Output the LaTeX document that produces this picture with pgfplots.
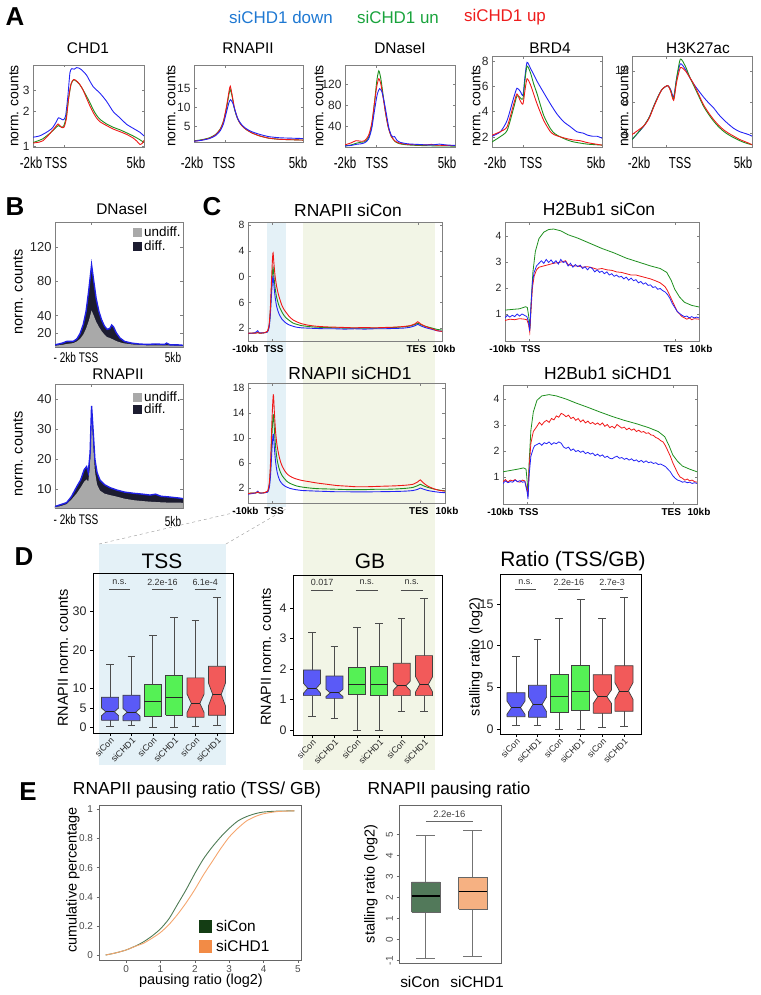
\documentclass[border=0pt]{standalone}
\usepackage{fontspec}
\setmainfont{Liberation Sans}
\usepackage{pgfplots}
\pgfplotsset{compat=1.18}
\usepackage{graphicx}

\definecolor{cblue}{HTML}{2323F5}
\definecolor{cgreen}{HTML}{1E8F1E}
\definecolor{cred}{HTML}{F01818}
\definecolor{lgblue}{HTML}{1E78D2}
\definecolor{lggreen}{HTML}{19A33C}
\definecolor{lgred}{HTML}{EE1C1C}
\definecolor{shblue}{HTML}{E4F1F7}
\definecolor{shgreen}{HTML}{F2F5E6}
\definecolor{bxblue}{HTML}{5A5AF7}
\definecolor{bxgreen}{HTML}{55F155}
\definecolor{bxred}{HTML}{F25A5A}
\definecolor{undiff}{HTML}{A9A9A9}
\definecolor{diffc}{HTML}{1C1C30}
\definecolor{bout}{HTML}{2020E6}
\definecolor{econ}{HTML}{4E7B55}
\definecolor{echd}{HTML}{F5A66E}
\definecolor{econsq}{HTML}{143D14}
\definecolor{echdsq}{HTML}{F28B46}
\definecolor{econbox}{HTML}{52795A}
\definecolor{echdbox}{HTML}{F6B182}

\newcommand\fs[1]{\fontsize{#1}{#1}\selectfont}
\newcommand\cond[1]{\scalebox{0.72}[1]{#1}}

\pgfplotsset{
  base/.style={scale only axis, anchor=north west, clip=true,
    /pgf/number format/assume math mode=true,
    axis line style={black!50, line width=0.6pt},
    major tick length=2.5bp,
    tick style={black!50, line width=0.5pt},
    tick label style={font=\fs{11}, text=black!85},
  },
  aplot/.style={base, xmin=-2, xmax=5, xtick={0}, xticklabel=\empty, tick label style={font=\fs{12}}},
  cplot/.style={base, xmin=-10, xmax=70, xtick={-10,0,60,70},
     xticklabels={\hspace*{-5bp}-10kb,\hspace*{3bp}TSS,TES\hspace*{3bp},\hspace*{4bp}10kb},
     xticklabel style={font=\fs{10}\bfseries, text=black, yshift=-1bp}, yticklabel style={font=\fs{10.5}}},
  dplot/.style={base, axis line style={black, line width=0.9pt}, tick align=outside, tick pos=left,
     xtick={1,...,6}, xticklabels={siCon,siCHD1,siCon,siCHD1,siCon,siCHD1},
     xticklabel style={rotate=45, anchor=north east, font=\fs{8.8}, inner sep=0.5pt},
     yticklabel style={font=\fs{12.5}}, tick style={black, line width=0.6pt}, major tick length=3bp},
  cline/.style={line width=0.9pt, smooth, tension=0.4},
  nline/.style={line width=0.8pt},
  whisk/.style={black!70, line width=0.7pt},
  boxst/.style={draw=black!75, line width=0.7pt},
  medst/.style={black!85, line width=0.9pt},
}

\newcommand{\whisk}[5]{%
  \pgfmathsetmacro\bcl{#1-\capw}\pgfmathsetmacro\bcr{#1+\capw}%
  \edef\tmp{\noexpand\addplot[whisk] coordinates {(#1,#2) (#1,#3)};
    \noexpand\addplot[whisk] coordinates {(#1,#4) (#1,#5)};
    \noexpand\addplot[whisk] coordinates {(\bcl,#2) (\bcr,#2)};
    \noexpand\addplot[whisk] coordinates {(\bcl,#5) (\bcr,#5)};}\tmp}
\newcommand{\nbox}[8]{%
  \whisk{#1}{#2}{#3}{#5}{#6}%
  \pgfmathsetmacro\bxl{#1-\bhw}\pgfmathsetmacro\bxr{#1+\bhw}%
  \pgfmathsetmacro\bil{#1-0.5*\bhw}\pgfmathsetmacro\bir{#1+0.5*\bhw}%
  \pgfmathsetmacro\bna{#4-#7}\pgfmathsetmacro\bnb{#4+#7}%
  \edef\tmp{\noexpand\addplot[boxst, fill=#8] coordinates {(\bxl,#3) (\bxr,#3) (\bxr,\bna) (\bir,#4) (\bxr,\bnb) (\bxr,#5) (\bxl,#5) (\bxl,\bnb) (\bil,#4) (\bxl,\bna) (\bxl,#3)};
    \noexpand\addplot[medst] coordinates {(\bil,#4) (\bir,#4)};}\tmp}
\newcommand{\pbox}[7]{%
  \whisk{#1}{#2}{#3}{#5}{#6}%
  \pgfmathsetmacro\bxl{#1-\bhw}\pgfmathsetmacro\bxr{#1+\bhw}%
  \edef\tmp{\noexpand\addplot[boxst, fill=#7] coordinates {(\bxl,#3) (\bxr,#3) (\bxr,#5) (\bxl,#5) (\bxl,#3)};
    \noexpand\addplot[medst] coordinates {(\bxl,#4) (\bxr,#4)};}\tmp}

\begin{document}
\begin{tikzpicture}
% ---------- shades ----------
\fill[shblue] (267bp,-222bp) rectangle (286bp,-507bp);
\fill[shgreen] (303bp,-222bp) rectangle (435bp,-770bp);
\fill[shblue] (99bp,-544bp) rectangle (226bp,-765bp);
\draw[dashed, black!35, line width=0.5pt] (99bp,-544bp) -- (250bp,-509bp);
\draw[dashed, black!35, line width=0.5pt] (226bp,-544bp) -- (286bp,-509bp);

% ---------- panel letters ----------
\node[font=\fs{26}\bfseries] at (15bp,-17bp) {A};
\node[font=\fs{26}\bfseries] at (15bp,-207bp) {B};
\node[font=\fs{26}\bfseries] at (212bp,-207bp) {C};
\node[font=\fs{26}\bfseries] at (24bp,-557bp) {D};
\node[font=\fs{26}\bfseries] at (28bp,-792bp) {E};

% ---------- A legend ----------
\node[font=\fs{17}, text=lgblue] at (281bp,-17bp) {siCHD1 down};
\node[font=\fs{17}, text=lggreen] at (398bp,-17bp) {siCHD1 un};
\node[font=\fs{17}, text=lgred] at (505bp,-17bp) {siCHD1 up};

% ---------- A titles / labels ----------
\node[font=\fs{15.5}] at (88bp,-48bp) {CHD1};
\node[font=\fs{15.5}] at (248bp,-48bp) {RNAPII};
\node[font=\fs{15.5}] at (400bp,-48bp) {DNaseI};
\node[font=\fs{15.5}] at (550bp,-48bp) {BRD4};
\node[font=\fs{15.5}] at (698bp,-48bp) {H3K27ac};
\foreach \xx in {14,171,319,476,624}{
  \node[font=\fs{14}, rotate=90] at (\xx bp,-106bp) {norm. counts};}
\foreach \xx/\tt in {31/-2kb,56/TSS,136/5kb,192/-2kb,224/TSS,298/5kb,345/-2kb,377/TSS,447/5kb,495/-2kb,531/TSS,596/5kb,639/-2kb,680/TSS,743/5kb}{
  \node[font=\fs{16}] at (\xx bp,-163bp) {\cond{\tt}};}

% CHD1
\begin{axis}[aplot, at={(33bp,-65bp)}, width=111bp, height=82bp, ymode=log, ymin=0.98, ymax=5, ytick={1,2,3}, yticklabels={1,2,3}]
\addplot[cline, cblue] coordinates {(-2,1.19)(-1.6,1.22)(-1.2,1.3)(-0.8,1.42)(-0.55,1.6)(-0.4,1.75)(-0.25,1.72)(-0.1,1.68)(0.05,1.8)(0.2,2.7)(0.33,4.3)(0.45,4.65)(0.6,4.6)(0.75,4.75)(0.9,4.7)(1.06,4.55)(1.37,4.1)(1.6,3.6)(1.79,3.26)(2.0,3.05)(2.22,2.86)(2.64,2.43)(3.06,1.98)(3.48,1.75)(3.9,1.54)(4.32,1.42)(4.75,1.31)(5.0,1.22)};
\addplot[cline, cgreen] coordinates {(-2,1.07)(-1.4,1.15)(-0.9,1.3)(-0.6,1.42)(-0.4,1.5)(-0.2,1.45)(-0.05,1.5)(0.1,1.8)(0.25,2.6)(0.4,3.4)(0.55,3.72)(0.7,3.65)(0.9,3.45)(1.1,3.15)(1.37,2.7)(1.6,2.35)(1.79,2.07)(2.0,1.85)(2.22,1.7)(2.64,1.55)(3.06,1.45)(3.48,1.38)(3.9,1.3)(4.32,1.22)(4.75,1.13)(5.0,1.07)};
\addplot[cline, cred] coordinates {(-2,1.06)(-1.6,1.08)(-1.37,1.11)(-1.0,1.25)(-0.6,1.45)(-0.42,1.55)(-0.2,1.45)(-0.05,1.45)(0.1,1.7)(0.25,2.6)(0.4,3.45)(0.57,3.75)(0.74,3.65)(0.95,3.4)(1.15,3.05)(1.37,2.6)(1.6,2.2)(1.79,1.95)(2.0,1.75)(2.22,1.62)(2.64,1.5)(3.06,1.4)(3.48,1.33)(3.9,1.26)(4.32,1.17)(4.55,1.1)(4.75,1.03)(4.9,1.06)(5.0,1.12)};
\end{axis}

% RNAPII
\begin{axis}[aplot, at={(194bp,-65bp)}, width=109bp, height=77bp, ymin=1, ymax=21, ytick={5,10,15}]
\addplot[cline, cgreen] coordinates {(-2,1.3)(-1.5,1.6)(-1.0,2.1)(-0.6,3.0)(-0.3,4.5)(-0.1,6.5)(0.1,10)(0.25,13.5)(0.33,14.6)(0.45,12.8)(0.6,9.5)(0.8,7.0)(1.0,5.6)(1.3,4.4)(1.7,3.4)(2.2,2.6)(2.8,2.0)(3.5,1.7)(4.2,1.6)(5.0,1.5)};
\addplot[cline, cred] coordinates {(-2,1.2)(-1.5,1.5)(-1.0,2.0)(-0.6,2.9)(-0.3,4.4)(-0.1,6.5)(0.1,10.5)(0.25,14.2)(0.33,15.5)(0.45,13.2)(0.6,9.8)(0.8,7.1)(1.0,5.6)(1.3,4.4)(1.7,3.4)(2.2,2.6)(2.8,2.0)(3.5,1.7)(4.2,1.6)(5.0,1.5)};
\addplot[cline, cblue] coordinates {(-2,1.2)(-1.5,1.45)(-1.0,1.9)(-0.6,2.7)(-0.3,4.0)(-0.1,5.8)(0.1,9)(0.25,11.3)(0.35,12.0)(0.5,11)(0.65,9)(0.8,7.2)(1.0,5.8)(1.3,4.6)(1.7,3.7)(2.2,3.0)(2.8,2.4)(3.5,2.1)(4.2,2.0)(5.0,1.9)};
\end{axis}

% DNaseI
\begin{axis}[aplot, at={(345bp,-65bp)}, width=110bp, height=82bp, ymin=0, ymax=156, ytick={40,80,120}]
\addplot[cline, cgreen] coordinates {(-2,2)(-1.6,4)(-1.3,7)(-1.0,9)(-0.75,10)(-0.5,18)(-0.3,40)(-0.12,85)(0.02,125)(0.15,145)(0.28,130)(0.42,100)(0.58,65)(0.75,38)(0.95,20)(1.2,10)(1.5,6)(2.0,4)(2.6,3)(3.2,2.5)(4.0,2)(4.5,2)(5.0,1.5)};
\addplot[cline, cred] coordinates {(-2,4)(-1.6,8)(-1.3,12)(-1.0,11)(-0.75,12)(-0.5,22)(-0.3,45)(-0.12,85)(0.02,115)(0.15,130)(0.28,120)(0.42,95)(0.58,65)(0.75,38)(0.95,20)(1.2,11)(1.5,7)(2.0,5)(2.6,4)(3.2,4)(3.5,5)(3.8,3.5)(4.5,3)(5.0,2.5)};
\addplot[cline, cblue] coordinates {(-2,2)(-1.6,3)(-1.3,5)(-1.0,6)(-0.75,8)(-0.5,15)(-0.3,35)(-0.12,70)(0.05,100)(0.2,111)(0.35,105)(0.5,85)(0.65,60)(0.8,35)(0.95,22)(1.05,19)(1.15,20)(1.3,13)(1.5,9)(2.0,6)(2.6,5)(3.2,4)(3.6,4)(4.0,5.5)(4.4,4)(5.0,3)};
\end{axis}

% BRD4
\begin{axis}[aplot, at={(492bp,-56bp)}, width=110bp, height=91bp, ymin=1.2, ymax=8.4, ytick={2,4,6,8}]
\addplot[cline, cblue] coordinates {(-2,2.05)(-1.47,2.4)(-1.04,3.3)(-0.62,5.1)(-0.41,5.85)(-0.2,5.6)(-0.03,5.3)(0.1,6.8)(0.23,7.9)(0.44,7.45)(0.87,6.4)(1.29,5.5)(1.72,4.6)(2.14,3.8)(2.56,3.2)(2.99,2.8)(3.41,2.4)(3.8,2.3)(4.05,2.15)(4.4,2.05)(4.69,2.05)(5,1.9)};
\addplot[cline, cgreen] coordinates {(-2,1.6)(-1.5,2.0)(-1.04,2.5)(-0.62,4.3)(-0.41,5.25)(-0.2,5.1)(-0.03,5.0)(0.1,6.5)(0.23,7.6)(0.44,7.1)(0.65,6.2)(0.87,5.4)(1.29,3.7)(1.72,2.65)(2.0,2.25)(2.35,2.0)(2.8,1.75)(3.2,1.6)(4.05,1.43)(5,1.35)};
\addplot[cline, cred] coordinates {(-2,2.13)(-1.5,2.4)(-1.04,2.8)(-0.62,4.6)(-0.41,5.4)(-0.2,4.85)(-0.03,4.6)(0.1,5.7)(0.23,6.6)(0.44,6.15)(0.65,5.4)(0.87,4.6)(1.29,3.3)(1.72,2.4)(2.0,2.15)(2.35,2.0)(2.8,1.85)(3.2,1.75)(3.6,1.7)(4.05,1.55)(4.5,1.45)(5,1.35)};
\end{axis}

% H3K27ac
\begin{axis}[aplot, at={(632bp,-56bp)}, width=120bp, height=91bp, ymin=2.2, ymax=13.9, ytick={4,8,12}]
\addplot[cline, cblue] coordinates {(-2,3.15)(-1.32,4.85)(-1.0,6.0)(-0.74,7.4)(-0.5,8.6)(-0.25,9.6)(0.08,10.1)(0.25,9.6)(0.43,8.65)(0.6,11)(0.82,12.9)(1.11,12.2)(1.35,11.2)(1.6,10.3)(1.9,9.4)(2.18,8.6)(2.5,7.8)(2.77,7.2)(3.05,6.4)(3.35,5.7)(3.65,5.1)(3.93,4.6)(4.25,4.2)(4.52,4.0)(4.8,3.8)(5,3.6)};
\addplot[cline, cgreen] coordinates {(-2,3.15)(-1.32,4.9)(-1.0,6.0)(-0.74,7.4)(-0.5,8.6)(-0.25,9.6)(0.08,10.1)(0.25,9.5)(0.43,8.4)(0.6,11)(0.82,13.5)(1.11,12.6)(1.35,11.3)(1.6,10.1)(1.9,8.7)(2.18,7.4)(2.5,6.3)(2.77,5.5)(3.05,4.8)(3.35,4.2)(3.65,3.75)(3.93,3.4)(4.25,3.05)(4.52,2.8)(4.8,2.6)(5,2.5)};
\addplot[cline, cred] coordinates {(-2,3.8)(-1.32,4.9)(-1.0,5.9)(-0.74,7.3)(-0.5,8.5)(-0.25,9.6)(0.08,10.1)(0.25,9.4)(0.43,8.2)(0.6,10.5)(0.82,12.4)(1.11,12.0)(1.35,11.2)(1.6,10.3)(1.9,8.9)(2.18,7.6)(2.5,6.5)(2.77,5.7)(3.05,5.0)(3.35,4.4)(3.65,3.95)(3.93,3.6)(4.25,3.2)(4.52,2.95)(4.8,2.7)(5,2.5)};
\end{axis}

% ---------- B ----------
\node[font=\fs{15.5}] at (122bp,-209bp) {DNaseI};
\node[font=\fs{15.5}] at (118bp,-374bp) {RNAPII};
\node[font=\fs{14.5}, rotate=90] at (18bp,-292bp) {norm. counts};
\node[font=\fs{14.5}, rotate=90] at (18bp,-454bp) {norm. counts};
\node[font=\fs{14}] at (76bp,-358bp) {\cond{- 2kb TSS}};
\node[font=\fs{14}] at (173bp,-358bp) {\cond{5kb}};
\node[font=\fs{14}] at (76bp,-520bp) {\cond{- 2kb TSS}};
\node[font=\fs{14}] at (173bp,-522bp) {\cond{5kb}};

\begin{axis}[base, at={(55bp,-222bp)}, width=128bp, height=125bp, xmin=-2, xmax=5, ymin=3.5, ymax=149, xtick={0}, xticklabel=\empty, ytick={20,40,80,120}, tick label style={font=\fs{13}}]
\addplot[fill=diffc, draw=none] coordinates {(-2,6)(-1.6,8)(-1.36,10)(-1.0,10)(-0.8,13)(-0.63,19)(-0.45,30)(-0.3,45)(-0.15,70)(0,99)(0.12,80)(0.25,60)(0.4,45)(0.55,35)(0.7,28)(0.85,24)(1.0,25)(1.1,29)(1.2,27)(1.35,20)(1.55,14)(1.8,10)(2.2,8)(2.6,7)(3.0,6.5)(3.5,7)(4.0,6.5)(4.1,8)(4.3,6)(4.7,6)(5,5.5)} \closedcycle;
\addplot[fill=undiff, draw=none] coordinates {(-2,5)(-1.6,6)(-1.36,7)(-1.0,8)(-0.8,10)(-0.63,13)(-0.45,18)(-0.3,25)(-0.15,34)(0,46)(0.12,40)(0.25,33)(0.4,27)(0.55,22)(0.7,18)(0.85,15)(1.0,14)(1.2,12)(1.4,10)(1.7,8)(2.2,6.5)(2.6,6)(3,5.5)(4,5.5)(5,5)} \closedcycle;
\addplot[bout, line width=1.4pt] coordinates {(-2,6)(-1.6,8)(-1.36,10)(-1.0,10)(-0.8,13)(-0.63,19)(-0.45,30)(-0.3,45)(-0.15,70)(0,99)(0.12,80)(0.25,60)(0.4,45)(0.55,35)(0.7,28)(0.85,24)(1.0,25)(1.1,29)(1.2,27)(1.35,20)(1.55,14)(1.8,10)(2.2,8)(2.6,7)(3.0,6.5)(3.5,7)(4.0,6.5)(4.1,8)(4.3,6)(4.7,6)(5,5.5)};
\end{axis}
\fill[undiff] (133bp,-228bp) rectangle (142bp,-237bp);
\fill[diffc] (133bp,-242bp) rectangle (142bp,-251bp);
\node[font=\fs{13.5}, anchor=west, inner sep=0] at (144bp,-232bp) {undiff.};
\node[font=\fs{13.5}, anchor=west, inner sep=0] at (144bp,-246bp) {diff.};

\begin{axis}[base, at={(55bp,-384bp)}, width=128bp, height=124bp, xmin=-2, xmax=5, ymin=3.7, ymax=45, xtick={0}, xticklabel=\empty, ytick={10,20,30,40}, tick label style={font=\fs{13}}]
\addplot[fill=diffc, draw=none] coordinates {(-2,4.2)(-1.7,4.8)(-1.36,5.5)(-1.1,7.5)(-0.81,10.8)(-0.6,13)(-0.4,16.5)(-0.27,17.5)(-0.18,15.5)(-0.08,22)(0,37.7)(0.08,30)(0.18,20)(0.3,15.5)(0.46,13)(0.7,11.5)(1.0,10.5)(1.37,9.7)(1.8,9)(2.3,8.6)(2.8,8.3)(3.2,8.0)(3.5,8.3)(3.8,7.6)(4.2,7.4)(4.5,7.2)(4.8,7)(5,6.8)} \closedcycle;
\addplot[fill=undiff, draw=none] coordinates {(-2,4)(-1.7,4.3)(-1.36,5)(-1.1,6.5)(-0.81,8.6)(-0.6,10.5)(-0.4,12.5)(-0.27,13.2)(-0.18,12.5)(-0.08,18)(0,36.4)(0.08,26)(0.18,16)(0.3,11.5)(0.46,9.5)(0.7,8.5)(1.0,8)(1.37,7.5)(1.8,6.8)(2.3,6.3)(2.8,6.0)(3.2,5.8)(3.8,5.6)(4.2,5.5)(4.8,5.5)(5,5.4)} \closedcycle;
\addplot[bout, line width=1.4pt] coordinates {(-2,4.2)(-1.7,4.8)(-1.36,5.5)(-1.1,7.5)(-0.81,10.8)(-0.6,13)(-0.4,16.5)(-0.27,17.5)(-0.18,15.5)(-0.08,22)(0,37.7)(0.08,30)(0.18,20)(0.3,15.5)(0.46,13)(0.7,11.5)(1.0,10.5)(1.37,9.7)(1.8,9)(2.3,8.6)(2.8,8.3)(3.2,8.0)(3.5,8.3)(3.8,7.6)(4.2,7.4)(4.5,7.2)(4.8,7)(5,6.8)};
\end{axis}
\fill[undiff] (133bp,-393bp) rectangle (142bp,-402bp);
\fill[diffc] (133bp,-405bp) rectangle (142bp,-414bp);
\node[font=\fs{13.5}, anchor=west, inner sep=0] at (144bp,-397bp) {undiff.};
\node[font=\fs{13.5}, anchor=west, inner sep=0] at (144bp,-409bp) {diff.};

% ---------- C ----------
\node[font=\fs{17.5}] at (348bp,-210bp) {RNAPII siCon};
\node[font=\fs{17.5}] at (350bp,-373bp) {RNAPII siCHD1};
\node[font=\fs{17.5}] at (599bp,-209bp) {H2Bub1 siCon};
\node[font=\fs{17.5}] at (608bp,-373bp) {H2Bub1 siCHD1};

\begin{axis}[cplot, at={(248bp,-222bp)}, width=194bp, height=119bp, ymin=0, ymax=18.5, ytick={2,6,10,14,18}, yticklabels={2,6,0,4,8}]
\addplot[cline, cgreen] coordinates {(-10,1.2)(-8.5,1.2)(-7,1.25)(-6,1.3)(-5,1.2)(-4,1.25)(-3,1.3)(-2,1.45)(-1.3,2.3)(-0.8,4.5)(-0.3,8.3)(0.1,10.8)(0.35,11.4)(0.7,10)(1.2,8.2)(1.8,6.8)(2.5,5.8)(3.2,5.1)(4,4.5)(5,3.9)(6,3.5)(7,3.2)(8.5,2.8)(10,2.6)(12,2.4)(15,2.25)(18,2.15)(22,2.1)(26,2.05)(30,2.0)(34,2.0)(38,2.0)(42,2.0)(46,2.05)(50,2.1)(54,2.2)(57,2.35)(59,2.6)(60,2.75)(61,2.6)(63,2.3)(66,2.0)(68,1.8)(70,1.7)};
\addplot[cline, cblue] coordinates {(-10,1.2)(-8.5,1.2)(-7,1.3)(-6,1.6)(-5.5,1.3)(-4,1.25)(-3,1.3)(-2,1.4)(-1.3,2.1)(-0.8,4.0)(-0.3,7.3)(0.1,9.5)(0.35,10.0)(0.7,8.6)(1.2,6.8)(1.8,5.4)(2.5,4.5)(3.2,3.9)(4,3.4)(5,3.0)(6,2.7)(7,2.5)(8.5,2.3)(10,2.15)(12,2.05)(15,2.0)(18,1.95)(22,1.9)(26,1.9)(30,1.85)(34,1.9)(38,1.85)(42,1.9)(46,1.9)(50,1.95)(54,2.0)(57,2.15)(59,2.4)(60,2.6)(61,2.4)(63,2.1)(66,1.8)(68,1.6)(70,1.5)};
\addplot[cline, cred] coordinates {(-10,1.2)(-8.5,1.25)(-7,1.2)(-6,1.3)(-5,1.2)(-4,1.25)(-3,1.3)(-2,1.5)(-1.3,2.5)(-0.8,5)(-0.3,9.5)(0.1,12.8)(0.35,13.7)(0.7,12)(1.2,10)(1.8,8.5)(2.5,7.3)(3.2,6.4)(4,5.5)(5,4.8)(6,4.3)(7,3.8)(8.5,3.3)(10,3.0)(12,2.7)(15,2.45)(18,2.3)(22,2.2)(26,2.15)(30,2.1)(34,2.05)(38,2.1)(42,2.05)(46,2.1)(50,2.15)(54,2.25)(57,2.4)(59,2.7)(60,3.0)(61,2.7)(63,2.3)(66,1.9)(68,1.6)(70,1.5)};
\end{axis}

\begin{axis}[cplot, at={(248bp,-383bp)}, width=197bp, height=120bp, ymin=-0.4, ymax=18.8, ytick={2,6,10,14,18}]
\addplot[cline, cgreen] coordinates {(-10,1.1)(-8.5,1.2)(-7,1.2)(-6,1.3)(-5,1.2)(-4,1.2)(-3,1.3)(-2,1.4)(-1.3,2.6)(-0.8,5.5)(-0.3,10.3)(0.1,13.2)(0.35,13.7)(0.7,11.5)(1.2,8.6)(1.8,6.6)(2.5,5.3)(3.2,4.5)(4,3.9)(5,3.4)(6,3.0)(7,2.75)(8.5,2.5)(10,2.3)(12,2.15)(15,2.0)(18,1.9)(22,1.85)(26,1.8)(30,1.75)(34,1.75)(38,1.75)(42,1.8)(46,1.8)(50,1.85)(54,1.95)(57,2.1)(59,2.4)(60,2.6)(61,2.4)(63,2.1)(66,1.8)(68,1.65)(70,1.55)};
\addplot[cline, cblue] coordinates {(-10,1.0)(-8.5,1.1)(-7,1.2)(-6,1.5)(-5.5,1.2)(-4,1.2)(-3,1.25)(-2,1.35)(-1.3,2.2)(-0.8,4.3)(-0.3,8)(0.1,10.2)(0.35,10.6)(0.7,8.5)(1.2,6.2)(1.8,4.6)(2.5,3.6)(3.2,3.0)(4,2.6)(5,2.3)(6,2.1)(7,1.95)(8.5,1.8)(10,1.7)(12,1.6)(15,1.55)(18,1.5)(22,1.45)(26,1.4)(30,1.4)(34,1.38)(38,1.38)(42,1.4)(46,1.42)(50,1.45)(54,1.5)(57,1.6)(59,1.8)(60,2.0)(61,1.85)(63,1.6)(66,1.4)(68,1.3)(70,1.25)};
\addplot[cline, cred] coordinates {(-10,1.1)(-8.5,1.2)(-7,1.2)(-6,1.35)(-5,1.2)(-4,1.2)(-3,1.3)(-2,1.5)(-1.3,3)(-0.8,6.5)(-0.3,12.5)(0.1,16)(0.35,16.9)(0.7,14.2)(1.2,11)(1.8,8.8)(2.5,7.3)(3.2,6.2)(4,5.4)(5,4.7)(6,4.2)(7,3.9)(8.5,3.6)(10,3.4)(12,3.2)(15,3.0)(18,2.8)(22,2.6)(26,2.4)(30,2.3)(34,2.2)(38,2.2)(42,2.25)(46,2.3)(50,2.35)(54,2.45)(57,2.6)(59,3.0)(60,3.3)(61,2.9)(63,2.3)(66,1.8)(68,1.6)(70,1.5)};
\end{axis}

\begin{axis}[cplot, at={(505bp,-222bp)}, width=194bp, height=119bp, ymin=-0.04, ymax=4.54, ytick={1,2,3,4}]
\addplot[nline, cgreen] coordinates {(-10,1.15)(-4,1.2)(-1.5,1.28)(-0.8,1.25)(-0.2,0.9)(0.3,0.45)(0.8,1.5)(1.5,2.6)(2.5,3.4)(4,3.9)(6,4.15)(8,4.25)(10,4.27)(13,4.2)(16,4.05)(20,3.92)(25,3.72)(30,3.52)(35,3.35)(40,3.15)(45,3.0)(50,2.85)(54,2.75)(56.7,2.6)(58.5,2.3)(60,1.95)(62,1.65)(64,1.45)(67,1.33)(70,1.27)};
\addplot[nline, cred] coordinates {(-10,0.75)(-8,0.8)(-6,0.78)(-4,0.82)(-2,0.8)(-1,0.78)(-0.3,0.6)(0.2,0.3)(0.7,1.1)(1.3,2.0)(2,2.45)(3,2.7)(4,2.8)(6,2.85)(8,2.9)(10,2.95)(12,2.98)(14,3.02)(15,3.05)(16,2.9)(18,2.85)(20,2.85)(22,2.8)(24,2.82)(26,2.78)(28,2.72)(30,2.75)(32,2.7)(34,2.68)(36,2.62)(38,2.6)(40,2.55)(42,2.5)(44,2.5)(46,2.45)(48,2.4)(50,2.35)(52,2.28)(54,2.2)(56,2.05)(57,1.9)(58,1.7)(59,1.5)(60,1.3)(61,1.1)(62,1.0)(63,0.9)(64,0.85)(65,0.8)(66,0.85)(67,0.78)(68,0.82)(70,0.8)};
\addplot[nline, cblue] coordinates {(-10,0.85)(-9,0.95)(-8,0.88)(-7,0.95)(-6,0.9)(-5,1.0)(-4,0.92)(-3,1.0)(-2,0.95)(-1,0.9)(-0.3,0.7)(0.2,0.35)(0.7,1.3)(1.3,2.2)(2,2.6)(3,2.85)(4,2.95)(5,3.05)(6,2.95)(7,3.1)(8,2.98)(9,3.08)(10,2.95)(11,3.05)(12,2.92)(13,3.1)(14,2.98)(15,3.02)(16,2.85)(17,2.95)(18,2.8)(19,2.9)(20,2.82)(21,2.88)(22,2.75)(23,2.82)(24,2.7)(25,2.8)(26,2.75)(27,2.62)(28,2.7)(29,2.6)(30,2.65)(31,2.55)(32,2.62)(33,2.5)(34,2.55)(35,2.45)(36,2.5)(37,2.42)(38,2.45)(39,2.35)(40,2.42)(41,2.3)(42,2.38)(43,2.28)(44,2.32)(45,2.2)(46,2.25)(47,2.15)(48,2.2)(49,2.1)(50,2.12)(51,2.02)(52,2.05)(53,1.95)(54,1.98)(55,1.9)(56,1.85)(57,1.75)(58,1.6)(59,1.4)(60,1.25)(61,1.1)(62,1.02)(63,0.95)(64,0.9)(65,0.92)(66,0.85)(67,0.9)(68,0.85)(69,0.88)(70,0.85)};
\end{axis}

\begin{axis}[cplot, at={(503bp,-385bp)}, width=194bp, height=119bp, ymin=-0.04, ymax=4.54, ytick={1,2,3,4}]
\addplot[nline, cgreen] coordinates {(-10,1.2)(-4,1.3)(-1.5,1.35)(-0.5,1.3)(0,0.8)(0.3,0.3)(0.8,1.6)(1.5,2.8)(2.5,3.5)(4,3.95)(6,4.12)(9,4.17)(12,4.12)(16,4.0)(20,3.85)(25,3.68)(30,3.5)(35,3.33)(40,3.18)(45,3.05)(50,2.9)(54,2.75)(56.7,2.55)(58.5,2.2)(60,1.85)(62,1.6)(64,1.42)(67,1.3)(70,1.2)};
\addplot[nline, cred] coordinates {(-10,0.82)(-9,0.9)(-8,0.8)(-7,0.88)(-6,0.85)(-5,0.9)(-4,0.82)(-3,0.8)(-2,0.88)(-1,0.85)(0,0.5)(0.3,0.25)(0.8,1.4)(1.5,2.3)(2.5,2.75)(4,2.95)(5,3.1)(6,3.0)(7,3.12)(8,3.18)(9,3.1)(10,3.25)(11,3.2)(12,3.35)(13,3.3)(14,3.45)(15,3.4)(16,3.32)(17,3.38)(18,3.25)(19,3.3)(20,3.18)(21,3.25)(22,3.12)(23,3.2)(24,3.08)(25,3.15)(26,3.05)(27,3.1)(28,3.02)(29,3.08)(30,3.0)(31,3.08)(32,2.95)(33,3.02)(34,2.9)(35,2.95)(36,2.88)(37,3.02)(38,2.95)(39,2.88)(40,2.92)(41,2.82)(42,2.88)(43,2.8)(44,2.85)(45,2.75)(46,2.8)(47,2.72)(48,2.75)(49,2.68)(50,2.7)(51,2.62)(52,2.6)(53,2.52)(54,2.48)(55,2.4)(56,2.35)(57,2.2)(58,2.0)(59,1.8)(60,1.55)(61,1.35)(62,1.15)(63,1.0)(64,0.95)(65,0.88)(66,0.92)(67,0.85)(68,0.88)(69,0.82)(70,0.8)};
\addplot[nline, cblue] coordinates {(-10,0.75)(-9,0.85)(-8,0.78)(-7,0.82)(-6,0.8)(-5,0.88)(-4,0.82)(-3,0.86)(-2,0.8)(-1,0.82)(0,0.4)(0.3,0.15)(0.8,1.1)(1.5,1.8)(2.5,2.1)(3,2.2)(4,2.25)(5,2.3)(6,2.22)(7,2.32)(8,2.28)(9,2.35)(10,2.25)(11,2.32)(12,2.28)(13,2.35)(14,2.3)(15,2.15)(16,2.1)(17,2.15)(18,2.02)(19,2.08)(20,1.98)(21,2.02)(22,1.95)(23,2.0)(24,1.9)(25,1.95)(26,1.88)(27,1.92)(28,1.82)(29,1.88)(30,1.8)(31,1.85)(32,1.75)(33,1.8)(34,1.72)(35,1.7)(36,1.76)(37,1.8)(38,1.72)(39,1.75)(40,1.68)(41,1.72)(42,1.65)(43,1.7)(44,1.62)(45,1.66)(46,1.58)(47,1.64)(48,1.56)(49,1.62)(50,1.55)(51,1.58)(52,1.52)(53,1.55)(54,1.48)(55,1.5)(56,1.45)(57,1.4)(58,1.3)(59,1.2)(60,1.05)(61,0.95)(62,0.88)(63,0.85)(64,0.8)(65,0.82)(66,0.78)(67,0.8)(68,0.75)(69,0.78)(70,0.75)};
\end{axis}

% ---------- D ----------
\node[font=\fs{21}] at (162bp,-561bp) {TSS};
\node[font=\fs{21}] at (370bp,-561bp) {GB};
\node[font=\fs{21}] at (573bp,-561bp) {Ratio (TSS/GB)};
\node[font=\fs{14.5}, rotate=90] at (63bp,-658bp) {RNAPII norm. counts};
\node[font=\fs{14.5}, rotate=90] at (266bp,-657bp) {RNAPII norm. counts};
\node[font=\fs{14.5}, rotate=90] at (476bp,-657bp) {stalling ratio (log2)};

\begin{axis}[dplot, at={(93bp,-573bp)}, width=140bp, height=160bp, xmin=0.2, xmax=6.75, ymin=-1.5, ymax=40, ytick={0,5,10,20,30}]
\def\bhw{0.4}\def\capw{0.18}
\nbox{1}{0.3}{1.8}{4.0}{7.8}{16.4}{1.0}{bxblue}
\nbox{2}{0.6}{1.7}{3.9}{8.3}{18.3}{1.0}{bxblue}
\pbox{3}{0.0}{2.9}{6.6}{11.2}{23.8}{bxgreen}
\pbox{4}{0.0}{3.2}{7.6}{13.4}{28.5}{bxgreen}
\nbox{5}{0.2}{2.6}{6.2}{12.8}{27.6}{2.4}{bxred}
\nbox{6}{0.5}{3.1}{8.5}{15.8}{33.8}{3.0}{bxred}
\draw[black!70, line width=0.8pt] (axis cs:0.95,35.7) -- (axis cs:1.95,35.7);
\draw[black!70, line width=0.8pt] (axis cs:2.95,35.7) -- (axis cs:3.95,35.7);
\draw[black!70, line width=0.8pt] (axis cs:4.95,35.7) -- (axis cs:5.95,35.7);
\node[font=\fs{9}, text=black!80] at (axis cs:1.45,37.6) {n.s.};
\node[font=\fs{9}, text=black!80] at (axis cs:3.45,37.6) {2.2e-16};
\node[font=\fs{9}, text=black!80] at (axis cs:5.45,37.6) {6.1e-4};
\end{axis}

\begin{axis}[dplot, at={(293bp,-575bp)}, width=149bp, height=160bp, xmin=0.15, xmax=6.8, ymin=-0.16, ymax=5.08, ytick={0,1,2,3,4}]
\def\bhw{0.38}\def\capw{0.17}
\nbox{1}{0.44}{1.13}{1.37}{1.97}{3.19}{0.16}{bxblue}
\nbox{2}{0.37}{1.04}{1.22}{1.77}{2.73}{0.12}{bxblue}
\pbox{3}{0}{1.18}{1.50}{2.04}{3.36}{bxgreen}
\pbox{4}{0}{1.13}{1.48}{2.08}{3.50}{bxgreen}
\nbox{5}{0.62}{1.13}{1.45}{2.19}{3.65}{0.15}{bxred}
\nbox{6}{0.62}{1.13}{1.50}{2.44}{4.32}{0.25}{bxred}
\draw[black!70, line width=0.8pt] (axis cs:0.95,4.59) -- (axis cs:1.95,4.59);
\draw[black!70, line width=0.8pt] (axis cs:2.95,4.59) -- (axis cs:3.95,4.59);
\draw[black!70, line width=0.8pt] (axis cs:4.95,4.59) -- (axis cs:5.95,4.59);
\node[font=\fs{9}, text=black!80] at (axis cs:1.45,4.84) {0.017};
\node[font=\fs{9}, text=black!80] at (axis cs:3.45,4.84) {n.s.};
\node[font=\fs{9}, text=black!80] at (axis cs:5.45,4.84) {n.s.};
\end{axis}

\begin{axis}[dplot, at={(500bp,-574bp)}, width=141bp, height=160bp, xmin=0.26, xmax=6.79, ymin=-0.6, ymax=18.6, ytick={0,5,10,15}]
\def\bhw{0.42}\def\capw{0.18}
\nbox{1}{0.4}{1.48}{2.56}{4.36}{8.7}{0.8}{bxblue}
\nbox{2}{0.48}{1.4}{2.96}{5.24}{10.8}{0.9}{bxblue}
\pbox{3}{0}{2.0}{3.88}{6.52}{13.3}{bxgreen}
\pbox{4}{0}{2.2}{4.56}{7.6}{15.6}{bxgreen}
\nbox{5}{0.2}{1.88}{3.88}{6.52}{13.3}{0.8}{bxred}
\nbox{6}{0.28}{2.12}{4.56}{7.6}{15.76}{1.0}{bxred}
\draw[black!70, line width=0.8pt] (axis cs:0.95,16.8) -- (axis cs:1.95,16.8);
\draw[black!70, line width=0.8pt] (axis cs:2.95,16.8) -- (axis cs:3.95,16.8);
\draw[black!70, line width=0.8pt] (axis cs:4.95,16.8) -- (axis cs:5.95,16.8);
\node[font=\fs{9}, text=black!80] at (axis cs:1.45,17.6) {n.s.};
\node[font=\fs{9}, text=black!80] at (axis cs:3.45,17.6) {2.2e-16};
\node[font=\fs{9}, text=black!80] at (axis cs:5.45,17.6) {2.7e-3};
\end{axis}

% ---------- E ----------
\node[font=\fs{17.5}] at (197bp,-790bp) {RNAPII pausing ratio (TSS/ GB)};
\node[font=\fs{17.5}] at (449bp,-790bp) {RNAPII pausing ratio};
\node[font=\fs{14.5}, rotate=90] at (73bp,-880bp) {cumulative percentage};
\node[font=\fs{14.5}] at (201bp,-981bp) {pausing ratio (log2)};
\node[font=\fs{14.5}, rotate=90] at (371bp,-884bp) {stalling ratio (log2)};

\begin{axis}[base, at={(99bp,-805bp)}, width=202bp, height=155bp, xmin=-0.79, xmax=5.09, ymin=-0.034, ymax=1.03,
  xtick={0,1,2,3,4,5}, ytick={0,0.2,0.4,0.6,0.8,1}, yticklabels={0,0.2,0.4,0.6,0.8,1},
  tick align=outside, tick pos=left, axis line style={black!60, line width=0.8pt}, tick style={black!60},
  tick label style={font=\fs{10}, text=black!70}]
\addplot[cline, econ] coordinates {(-0.6,0)(-0.3,0.015)(0,0.035)(0.3,0.065)(0.5,0.09)(0.75,0.13)(1.0,0.18)(1.25,0.25)(1.5,0.35)(1.75,0.45)(2.0,0.56)(2.25,0.66)(2.5,0.74)(2.75,0.81)(3.0,0.87)(3.25,0.92)(3.5,0.95)(3.75,0.97)(4.0,0.982)(4.4,0.988)(4.9,0.99)};
\addplot[cline, echd] coordinates {(-0.6,0)(-0.3,0.015)(0,0.035)(0.3,0.063)(0.5,0.08)(0.75,0.115)(1.0,0.155)(1.25,0.21)(1.5,0.28)(1.75,0.36)(2.0,0.45)(2.25,0.55)(2.5,0.64)(2.75,0.73)(3.0,0.81)(3.25,0.87)(3.5,0.92)(3.75,0.95)(4.0,0.97)(4.4,0.985)(4.9,0.99)};
\end{axis}
\fill[econsq] (199bp,-920bp) rectangle (212bp,-933bp);
\fill[echdsq] (199bp,-940bp) rectangle (212bp,-953bp);
\node[font=\fs{15.5}, anchor=west, inner sep=0] at (216bp,-926bp) {siCon};
\node[font=\fs{15.5}, anchor=west, inner sep=0] at (216bp,-946bp) {siCHD1};

\begin{axis}[base, at={(399bp,-805bp)}, width=102bp, height=158bp, xmin=0.43, xmax=2.6, ymin=-1.11, ymax=6.4,
  ytick={-1,0,1,2,3,4,5}, xtick=\empty, tick align=outside, tick pos=left,
  yticklabel style={rotate=90, anchor=south, font=\fs{10}, text=black!70},
  axis line style={black!60, line width=0.8pt}, tick style={black!60},
  whisk/.style={black!55, line width=0.7pt}, medst/.style={black, line width=1.8pt},
  boxst/.style={draw=black!60, line width=0.6pt}]
\def\bhw{0.3}\def\capw{0.2}
\pbox{1}{-0.88}{1.31}{2.09}{2.75}{4.96}{econbox}
\pbox{2}{-0.8}{1.45}{2.29}{2.97}{5.2}{echdbox}
\draw[black!60, line width=0.8pt] (axis cs:1.0,5.6) -- (axis cs:2.0,5.6);
\node[font=\fs{9.5}, text=black!75] at (axis cs:1.5,5.95) {2.2e-16};
\end{axis}
\node[font=\fs{15.5}] at (420bp,-982bp) {siCon};
\node[font=\fs{15.5}] at (477bp,-982bp) {siCHD1};

\pgfresetboundingbox
\path[use as bounding box] (0,0) rectangle (761bp,-995bp);
\end{tikzpicture}
\end{document}
